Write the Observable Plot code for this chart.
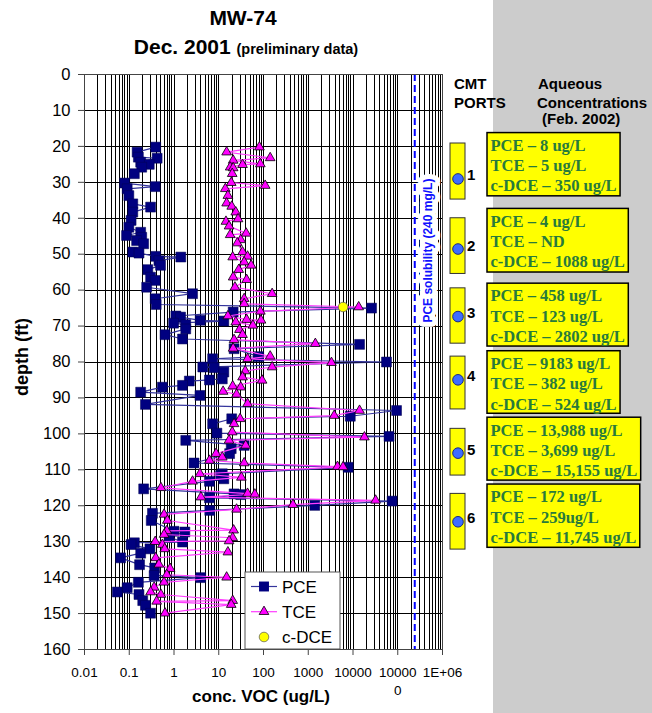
<!DOCTYPE html>
<html><head><meta charset="utf-8">
<script src="https://cdn.jsdelivr.net/npm/d3@7"></script>
<script src="https://cdn.jsdelivr.net/npm/@observablehq/plot@0.6"></script>
<style>
html,body{margin:0;padding:0;background:#fff;}
#chart{position:relative;width:652px;height:713px;}
</style></head><body><div id="chart"></div>
<script>
// ---- data ----
const depthTicks = [0,10,20,30,40,50,60,70,80,90,100,110,120,130,140,150,160];
const xTickValues = [0.01,0.1,1,10,100,1000,10000,100000,1000000];
const xTickLabels = ["0.01","0.1","1","10","100","1000","10000","10000\n0","1E+06"];

const pceDepth = [20.2,21.6,23.0,23.3,24.4,25.0,25.8,27.6,30.2,31.2,31.8,33.7,36.0,36.9,38.3,40.6,42.5,43.9,44.8,45.3,
  46.2,47.1,49.4,49.7,50.6,50.8,51.8,53.1,54.3,56.4,57.3,59.2,61.0,62.4,64.0,65.0,66.1,67.2,67.5,68.4,
  68.6,69.2,69.6,70.8,72.4,73.6,75.1,76.3,78.5,79.1,80.0,81.4,81.6,82.8,84.7,85.0,85.3,86.5,87.0,88.4,
  89.3,91.8,93.5,95.1,95.8,97.2,99.8,100.7,101.8,103.2,104.1,105.5,108.1,109.3,111.1,111.6,112.5,113.2,115.3,116.7,
  116.9,117.8,118.7,119.9,121.3,122.1,124.1,127.1,127.3,128.7,130.1,130.3,130.8,132.0,133.2,134.5,136.4,137.3,139.4,140.0,
  141.3,142.8,144.0,144.7,146.4,147.7,149.9];
const pceConc = [0.39,0.15,0.16,0.42,0.18,0.28,0.19,0.13,0.079,0.38,0.09,0.098,0.12,0.30,0.12,0.11,0.098,0.18,0.087,0.19,
  0.146,0.21,0.12,0.165,0.39,1.42,0.46,0.50,0.26,0.30,0.38,0.245,2.6,0.38,0.40,26000,21,1.1,1.4,3.85,
  13,0.98,1.83,1.83,0.63,1.55,14000,22,78,7.3,56000,4.4,7.9,13,12,6.2,2.2,1.55,0.55,0.18,
  3.8,0.23,94000,8700,19.5,7.3,9.1,64000,1.83,37,19,17.5,2.8,7800,12,11,13,6.2,0.21,22,
  31,6.2,75000,1400,6.3,0.33,0.31,1.0,1.75,0.78,1.55,0.13,0.11,0.29,0.18,0.064,0.17,0.37,0.36,3.95,
  0.16,0.09,0.054,0.165,0.2,0.23,0.30];

const tceDepth = [20.2,21.6,23.2,23.9,24.9,25.1,25.8,26.0,27.6,30.1,30.9,31.8,33.7,35.8,36.7,38.3,40.2,40.9,42.2,44.2,
  44.6,46.0,46.9,49.4,50.6,50.8,52.2,53.1,54.3,56.4,57.1,59.2,61.0,62.4,63.8,64.7,65.9,67.2,68.2,68.4,
  68.9,69.8,71.0,72.4,73.8,74.9,76.2,78.4,79.1,80.2,81.4,82.5,84.2,85.1,86.7,87.0,88.2,89.0,91.6,93.5,
  94.9,95.8,97.2,99.5,100.9,101.8,103.2,105.5,106.5,107.4,108.1,109.1,109.2,111.1,112.1,113.2,115.0,116.6,116.8,117.6,
  118.5,119.7,121.0,122.4,124.1,126.8,127.0,128.0,128.9,129.8,130.0,130.8,132.0,132.9,134.5,136.3,137.5,139.2,139.9,141.3,
  142.7,144.0,144.7,146.4,146.6,147.5,149.9];
const tceConc = [81,15,141,21,85,34,18,21,20,19,109,14,16,15,19.5,24,27,14.5,17,41,
  18,31,26,34,44,20.5,37,53,28,21,42,23,156,37,37,13400,85,16,42,88,
  24,58,29,34,22,1440,21,141,44,3300,156,39,34,93,20.5,31,12.5,25,44,14000,
  3800,30,22,20,18000,17,40,8.7,12,6.2,37,4500,6000,3.8,32,2.6,0.51,44,64,4.0,
  32000,455,25,0.6,0.71,21.5,0.69,0.6,20.5,17,0.38,0.55,0.62,16,0.39,0.46,0.82,0.69,15,0.6,
  0.36,0.3,0.51,20.5,0.41,19,0.63];

const dceDepth = [64.7];
const dceConc = [6000];

const seriesNames = ["PCE","TCE","c-DCE"];
const solubility = 240000;
const solubilityLabel = "PCE solubility (240 mg/L)";
const solubilityLabelDepth = 49;

const portNames = ["1","2","3","4","5","6"];
const portDepth = [29.2,48.7,67.5,85.1,105.5,124.6];
const portTop = [19.2,40.0,59.5,78.5,98.6,116.7];
const portBottom = [34.8,55.5,74.9,93.2,111.6,132.2];
const boxTop = [16.3,37.4,58.2,77.0,95.5,114.1];
const boxBottom = [33.9,55.1,75.7,94.4,113.0,131.7];
const portPCE = ["8 ug/L","4 ug/L","458 ug/L","9183 ug/L","13,988 ug/L","172 ug/L"];
const portTCE = ["5 ug/L","ND","123 ug/L","382 ug/L","3,699 ug/L","259ug/L"];
const portDCE = ["350 ug/L","1088 ug/L","2802 ug/L","524 ug/L","15,155 ug/L","11,745 ug/L"];

// ---- build ----
const pce = pceDepth.map((d,i)=>({depth:d, conc:pceConc[i]}));
const tce = tceDepth.map((d,i)=>({depth:d, conc:tceConc[i]}));
const dce = dceDepth.map((d,i)=>({depth:d, conc:dceConc[i]}));

const gridX = [];
for (let e=-2;e<6;e++) for (let m=1;m<10;m++) gridX.push(m*Math.pow(10,e));
gridX.push(1e6);

const PCE_FILL="#000080", PCE_LINE="#35359c", TCE_FILL="#ff00ff", TCE_LINE="#ff3cff";
const SANS="'Liberation Sans', Arial, sans-serif";

const plot = Plot.plot({
  width:652, height:713,
  marginLeft:84, marginRight:210, marginTop:74, marginBottom:64,
  style:{fontFamily:SANS, color:"#000", background:"#fff", overflow:"visible"},
  x:{type:"log", domain:[0.01,1e6]},
  y:{domain:[0,160], reverse:true},
  marks:[
    Plot.ruleX(gridX, {stroke:"#000", strokeWidth:1, shapeRendering:"crispEdges"}),
    Plot.ruleY(depthTicks, {stroke:"#000", strokeWidth:1, shapeRendering:"crispEdges"}),
    Plot.text([solubilityLabel], {x:()=>solubility, y:()=>solubilityLabelDepth, text:d=>d, dx:13, rotate:-90,
      fill:"#1010ff", stroke:"#fff", strokeWidth:10, fontWeight:"bold", fontSize:12}),
    Plot.ruleX([solubility], {stroke:"#0000ff", strokeWidth:2, strokeDasharray:"7,4"}),
    Plot.frame({stroke:"#444", shapeRendering:"crispEdges"}),
    Plot.axisY({ticks:depthTicks, tickSize:6, tickPadding:8, fontSize:16.5, label:null, stroke:"#444"}),
    Plot.axisX({ticks:xTickValues, tickFormat:d=>xTickLabels[xTickValues.indexOf(d)], tickSize:6, tickPadding:9,
      fontSize:13.5, lineHeight:1.3, label:null, stroke:"#444"}),
    Plot.line(pce, {x:"conc", y:"depth", stroke:PCE_LINE, strokeWidth:1.2}),
    Plot.dot(pce, {x:"conc", y:"depth", symbol:"square", r:5.6, fill:PCE_FILL, stroke:"#000050", strokeWidth:0.5}),
    Plot.line(tce, {x:"conc", y:"depth", stroke:TCE_LINE, strokeWidth:1.2}),
    Plot.dot(tce, {x:"conc", y:"depth", symbol:"triangle", r:3.6, fill:TCE_FILL, stroke:"#000", strokeWidth:0.8}),
    Plot.dot(dce, {x:"conc", y:"depth", symbol:"circle", r:4.8, fill:"#ffff00", stroke:"#555", strokeWidth:0.7})
  ]
});
document.getElementById("chart").appendChild(plot);

const svg = d3.select(plot);
const Y = plot.scale("y");
const yp = d => Y.apply(d);

// gray panel behind
svg.insert("rect", ":first-child").attr("x",493).attr("y",0).attr("width",159).attr("height",713).attr("fill","#cccccc");
svg.insert("rect", ":first-child").attr("x",0).attr("y",0).attr("width",652).attr("height",713).attr("fill","#ffffff");

function txt(sel, t, x, y, size, opts={}) {
  const e = sel.append("text").attr("x",x).attr("y",y).attr("font-size",size)
    .attr("text-anchor", opts.anchor || "start").attr("fill", opts.fill || "#000")
    .attr("font-weight", opts.bold ? "bold" : "normal");
  if (opts.family) e.attr("font-family", opts.family);
  if (t !== null) e.text(t);
  return e;
}

// titles
txt(svg, "MW-74", 243, 25, 21, {anchor:"middle", bold:true});
const t2 = txt(svg, null, 246, 54, 21, {anchor:"middle", bold:true});
t2.append("tspan").attr("font-size",21).text("Dec. 2001 ");
t2.append("tspan").attr("font-size",14.5).text("(preliminary data)");

txt(svg, "depth (ft)", 0, 0, 18, {anchor:"middle", bold:true}).attr("transform","translate(28,357) rotate(-90)");
txt(svg, "conc. VOC (ug/L)", 261, 702, 17, {anchor:"middle", bold:true});

// legend
const lg = svg.append("g");
lg.append("rect").attr("x",245).attr("y",572).attr("width",95).attr("height",77).attr("fill","#fff").attr("stroke","#555");
const rows = [586.5, 611.7, 637];
lg.append("line").attr("x1",251).attr("x2",277).attr("y1",rows[0]).attr("y2",rows[0]).attr("stroke",PCE_LINE).attr("stroke-width",1.2);
lg.append("path").attr("d", d3.symbol(d3.symbolSquare, Math.PI*5.6*5.6)()).attr("transform",`translate(264,${rows[0]})`).attr("fill",PCE_FILL);
lg.append("line").attr("x1",251).attr("x2",277).attr("y1",rows[1]).attr("y2",rows[1]).attr("stroke",TCE_LINE).attr("stroke-width",1.2);
lg.append("path").attr("d", d3.symbol(d3.symbolTriangle, Math.PI*3.6*3.6)()).attr("transform",`translate(264,${rows[1]})`).attr("fill",TCE_FILL).attr("stroke","#000").attr("stroke-width",0.8);
lg.append("circle").attr("cx",264).attr("cy",rows[2]).attr("r",4.8).attr("fill","#ffff00").attr("stroke","#555").attr("stroke-width",0.7);
seriesNames.forEach((n,i)=> txt(lg, n, 282, rows[i]+6, 17));

// right panel headers
const hdr = [["CMT",454,89],["PORTS",454,108],["Aqueous",538,89],["Concentrations",537,108],["(Feb. 2002)",542,124]];
hdr.forEach(([t,x,y])=> txt(svg, t, x, y, 15, {bold:true}));

// ports and concentration boxes
const SERIF = "'Liberation Serif', 'Times New Roman', serif";
portNames.forEach((n,i)=>{
  const g = svg.append("g");
  g.append("rect").attr("x",450).attr("y",yp(portTop[i])).attr("width",15).attr("height",yp(portBottom[i])-yp(portTop[i]))
    .attr("fill","#ffff00").attr("stroke","#333").attr("stroke-width",1);
  const cy = yp(portDepth[i]);
  g.append("circle").attr("cx",458).attr("cy",cy).attr("r",5.3).attr("fill","#3d6cff").attr("stroke","#1a2a80").attr("stroke-width",1);
  txt(g, n, 467, cy+1.5, 15, {bold:true});
  const bx = svg.append("g");
  const top = yp(boxTop[i]), h = yp(boxBottom[i]) - top;
  const r = bx.append("rect").attr("x",487).attr("y",top).attr("height",h).attr("fill","#ffff00").attr("stroke","#000").attr("stroke-width",1.5);
  const lines = ["PCE – "+portPCE[i], "TCE – "+portTCE[i], "c-DCE – "+portDCE[i]];
  let maxW = 0;
  lines.forEach((t,j)=>{
    const tx = txt(bx, t, 490.5, top+18.3+j*20.3, 16.5, {bold:true, fill:"#287a3c", family:SERIF});
    maxW = Math.max(maxW, tx.node().getComputedTextLength());
  });
  r.attr("width", maxW + 7);
});
</script></body></html>
